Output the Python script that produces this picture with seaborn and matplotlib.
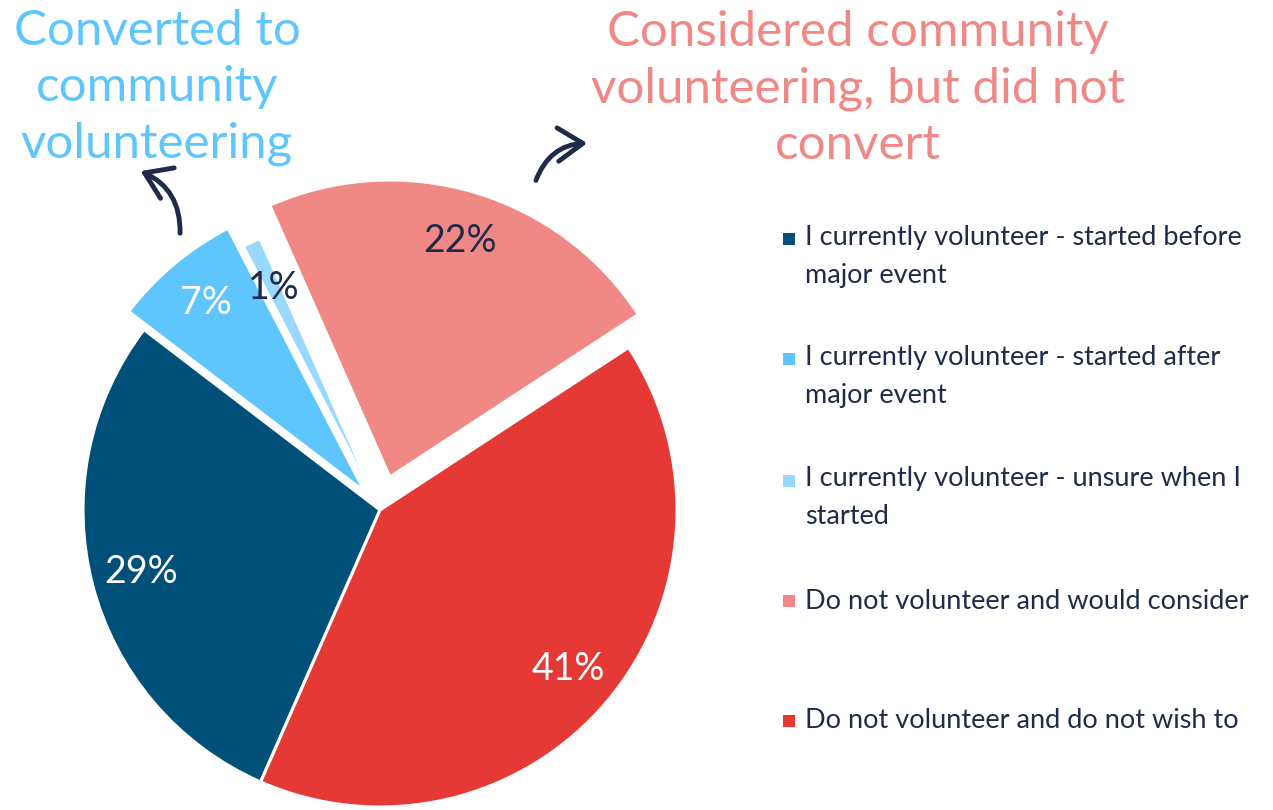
import matplotlib
matplotlib.use("Agg")
import matplotlib.pyplot as plt
import seaborn as sns
from matplotlib.patches import FancyArrowPatch

# ====================================================
# DATA
# ====================================================

labels = [
    "I currently volunteer - started before\nmajor event",
    "I currently volunteer - started after\nmajor event",
    "I currently volunteer - unsure when I\nstarted",
    "Do not volunteer and would consider",
    "Do not volunteer and do not wish to",
]
shares = [28.8, 7.0, 1.0, 22.4, 40.8]
explode = [0, 0.08, 0, 0.116, 0]

colors = ["#00507A", "#5EC6FC", "#99D9FD", "#F08985", "#E53935"]
pct_colors = ["white", "white", "#1F2B48", "#1F2B48", "white"]

title_left = "Converted to\ncommunity\nvolunteering"
title_right = "Considered community\nvolunteering, but did not\nconvert"

TEXT = "#1F2B48"

# ====================================================
# FIGURE
# ====================================================

sns.set_theme(style="white")
plt.rcParams["font.family"] = ["Lato", "DejaVu Sans"]

W, H = 1273, 810
fig = plt.figure(figsize=(W / 100, H / 100), dpi=100)

# pie axes: centre at (380, 510) px, radius 297 px
R = 297
cx, cy = 380, 510
half = 1.5 * R
ax = fig.add_axes([(cx - half) / W, (H - cy - half) / H, 2 * half / W, 2 * half / H])

wedges, texts, autotexts = ax.pie(
    shares,
    explode=explode,
    colors=colors,
    startangle=246.3,
    counterclock=False,
    autopct="%.0f%%",
    pctdistance=0.83,
    wedgeprops=dict(edgecolor="white", linewidth=2.2),
    textprops=dict(fontsize=27),
)
for t, c in zip(autotexts, pct_colors):
    t.set_color(c)

ax.set_xlim(-1.5, 1.5)
ax.set_ylim(-1.5, 1.5)
ax.set_aspect("equal")
ax.axis("off")

# ====================================================
# OVERLAY: TITLES, ARROWS, LEGEND
# ====================================================

ov = fig.add_axes([0, 0, 1, 1])
ov.set_xlim(0, W)
ov.set_ylim(H, 0)
ov.axis("off")
ov.patch.set_alpha(0)

# va="baseline" on multi-line text aligns the last line
ov.text(157, 157, title_left, ha="center", va="baseline", fontsize=35.5,
        color="#5EC6FC", linespacing=1.34)
ov.text(858, 159, title_right, ha="center", va="baseline", fontsize=35.5,
        color="#F08985", linespacing=1.34)

arrow_kw = dict(
    arrowstyle="->,head_length=0.6,head_width=0.4",
    mutation_scale=30,
    color=TEXT,
    linewidth=3.5,
    capstyle="round",
    joinstyle="round",
)
ov.add_patch(FancyArrowPatch((180, 236), (138, 170),
                             connectionstyle="arc3,rad=0.35", **arrow_kw))
ov.add_patch(FancyArrowPatch((535, 183), (590, 143),
                             connectionstyle="arc3,rad=-0.35", **arrow_kw))

# legend
leg_y = [239, 359, 481, 601, 721]
first_baseline = [247, 367, 488, 609, 728]
ov.scatter([789] * len(leg_y), leg_y, marker="s", s=75, c=colors, linewidths=0)
for yb, lab in zip(first_baseline, labels):
    n_extra = lab.count("\n")
    ov.text(805, yb + 36 * n_extra, lab, ha="left", va="baseline", fontsize=19.5,
            color=TEXT, linespacing=1.63)

fig.savefig("out.png", dpi=100)
